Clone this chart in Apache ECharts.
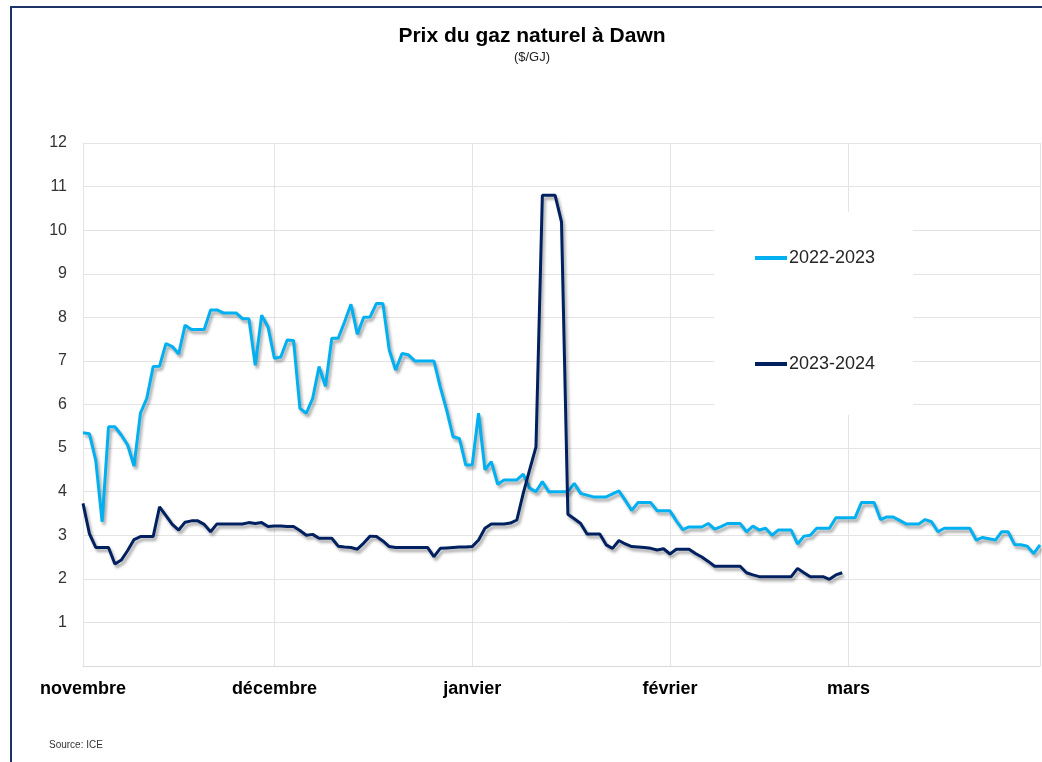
<!DOCTYPE html>
<html>
<head>
<meta charset="utf-8">
<title>Prix du gaz naturel à Dawn</title>
<script src="https://cdn.jsdelivr.net/npm/echarts@6/dist/echarts.min.js"></script>
<style>
  html, body { margin: 0; padding: 0; background: #ffffff; }
  #chart { width: 1042px; height: 762px; }
</style>
</head>
<body>
<div id="chart"></div>
<script>
// Months shown on the axis and their number of days (November to March)
const months = ['novembre', 'décembre', 'janvier', 'février', 'mars'];
const monthDays = [30, 31, 31, 28, 31];

// Daily Dawn price, $/GJ, 2022-2023 season (1 Nov to 31 Mar)
const season2022 = [
  5.35, 5.33, 4.72, 3.31, 5.49, 5.49, 5.30, 5.07, 4.59, 5.80,
  6.14, 6.87, 6.88, 7.40, 7.33, 7.16, 7.82, 7.72, 7.72, 7.72,
  8.17, 8.17, 8.10, 8.10, 8.10, 7.97, 7.97, 6.90, 8.05, 7.78,
  7.06, 7.09, 7.48, 7.47, 5.91, 5.80, 6.14, 6.87, 6.42, 7.52,
  7.52, 7.90, 8.30, 7.61, 8.00, 8.01, 8.32, 8.32, 7.25, 6.79,
  7.17, 7.14, 7.00, 7.00, 7.00, 7.00, 6.40, 5.87, 5.26, 5.22,
  4.61, 4.61, 5.80, 4.50, 4.69, 4.17, 4.27, 4.27, 4.27, 4.40,
  4.08, 4.00, 4.23, 4.00, 4.00, 4.00, 4.00, 4.19, 3.96, 3.92,
  3.88, 3.88, 3.88, 3.95, 4.02, 3.80, 3.57, 3.75, 3.75, 3.75,
  3.56, 3.56, 3.56, 3.33, 3.13, 3.19, 3.19, 3.19, 3.27, 3.14,
  3.20, 3.27, 3.27, 3.27, 3.08, 3.21, 3.12, 3.16, 3.00, 3.12,
  3.12, 3.12, 2.80, 2.98, 3.00, 3.16, 3.16, 3.16, 3.40, 3.40,
  3.40, 3.40, 3.75, 3.75, 3.75, 3.36, 3.42, 3.42, 3.34, 3.26,
  3.26, 3.26, 3.36, 3.31, 3.08, 3.16, 3.16, 3.16, 3.16, 3.16,
  2.89, 2.95, 2.92, 2.89, 3.08, 3.08, 2.79, 2.78, 2.75, 2.58,
  2.78
];

// Daily Dawn price, $/GJ, 2023-2024 season (1 Nov to 28 Feb)
const season2023 = [
  3.73, 3.04, 2.72, 2.72, 2.72, 2.34, 2.43, 2.65, 2.90, 2.97,
  2.97, 2.97, 3.65, 3.45, 3.25, 3.12, 3.30, 3.33, 3.33, 3.25,
  3.08, 3.26, 3.26, 3.26, 3.26, 3.26, 3.29, 3.27, 3.29, 3.20,
  3.21, 3.21, 3.20, 3.20, 3.11, 3.00, 3.02, 2.93, 2.93, 2.93,
  2.75, 2.73, 2.72, 2.68, 2.82, 2.98, 2.97, 2.87, 2.74, 2.72,
  2.72, 2.72, 2.72, 2.72, 2.72, 2.51, 2.70, 2.71, 2.72, 2.73,
  2.73, 2.74, 2.89, 3.16, 3.26, 3.26, 3.26, 3.28, 3.35, 3.96,
  4.50, 5.03, 10.80, 10.80, 10.80, 10.19, 3.48, 3.38, 3.27, 3.03,
  3.03, 3.03, 2.78, 2.70, 2.88, 2.80, 2.74, 2.73, 2.72, 2.70,
  2.66, 2.69, 2.57, 2.68, 2.68, 2.68, 2.58, 2.50, 2.40, 2.29,
  2.29, 2.29, 2.29, 2.29, 2.14, 2.09, 2.05, 2.05, 2.05, 2.05,
  2.05, 2.05, 2.24, 2.14, 2.05, 2.05, 2.05, 1.99, 2.09, 2.14
];

const seriesNames = ['2022-2023', '2023-2024'];
const yTicks = [0, 12, 1]; // min, max, step

// One category per calendar day; remember where each month starts
const days = [];
const monthStart = {};
months.forEach((m, i) => {
  monthStart[days.length] = m;
  for (let d = 1; d <= monthDays[i]; d++) days.push(d + ' ' + m);
});
const lastIndex = days.length - 1;

const lineShadow = {
  shadowColor: 'rgba(0, 0, 0, 0.35)',
  shadowBlur: 3,
  shadowOffsetX: 2,
  shadowOffsetY: 3
};

const chart = echarts.init(document.getElementById('chart'), null, { renderer: 'canvas' });

chart.setOption({
  backgroundColor: '#ffffff',
  animation: false,
  title: {
    text: 'Prix du gaz naturel à Dawn',
    subtext: '($/GJ)',
    left: 527,
    textAlign: 'center',
    top: 21,
    itemGap: 4,
    textStyle: { fontFamily: 'Liberation Sans, Arial, sans-serif', fontSize: 21, fontWeight: 'bold', color: '#000000' },
    subtextStyle: { fontFamily: 'Liberation Sans, Arial, sans-serif', fontSize: 13, color: '#222222' }
  },
  grid: { left: 83, right: 2, top: 143, bottom: 96, containLabel: false },
  legend: {
    orient: 'vertical',
    left: 755,
    top: 248,
    itemGap: 86,
    icon: 'rect',
    itemWidth: 32,
    itemHeight: 4,
    padding: 0,
    textStyle: { fontFamily: 'Liberation Sans, Arial, sans-serif', fontSize: 18, color: '#262626', lineHeight: 20, padding: [0, 0, 0, -3] },
    data: seriesNames
  },
  graphic: [
    {
      // white panel behind the legend
      type: 'rect', z: 1, silent: true,
      shape: { x: 714, y: 212, width: 199, height: 203 },
      style: { fill: '#ffffff' }
    },
    {
      // outer frame
      type: 'rect', z: 10, silent: true,
      shape: { x: 11, y: 7, width: 1060, height: 800 },
      style: { fill: 'none', stroke: '#1f3466', lineWidth: 2 }
    },
    {
      type: 'text', z: 10, left: 49, top: 740,
      style: { text: 'Source: ICE', fontFamily: 'Liberation Sans, Arial, sans-serif', fontSize: 10, fill: '#333333' }
    }
  ],
  xAxis: {
    type: 'category',
    data: days,
    boundaryGap: false,
    axisLine: { show: true, lineStyle: { color: '#d9d9d9', width: 1 } },
    axisTick: { show: false },
    axisLabel: {
      interval: (idx) => monthStart[idx] !== undefined,
      formatter: (val, idx) => monthStart[idx] || '',
      margin: 14,
      fontFamily: 'Liberation Sans, Arial, sans-serif',
      fontWeight: 'bold',
      fontSize: 18,
      color: '#000000',
      showMinLabel: true,
      hideOverlap: false
    },
    splitLine: {
      show: true,
      interval: (idx) => monthStart[idx] !== undefined || idx === lastIndex,
      lineStyle: { color: '#e4e4e4', width: 1 }
    }
  },
  yAxis: {
    type: 'value',
    min: yTicks[0],
    max: yTicks[1],
    interval: yTicks[2],
    axisLine: { show: false },
    axisTick: { show: false },
    axisLabel: {
      margin: 16,
      formatter: (v) => (v === 0 ? '' : String(v)),
      fontFamily: 'Liberation Sans, Arial, sans-serif',
      fontSize: 16,
      color: '#333333'
    },
    splitLine: { show: true, lineStyle: { color: '#e4e4e4', width: 1 } }
  },
  series: [
    {
      name: seriesNames[0],
      type: 'line',
      data: season2022,
      symbol: 'none',
      z: 3,
      color: '#00b0f0',
      lineStyle: Object.assign({ width: 3, color: '#00b0f0' }, lineShadow)
    },
    {
      name: seriesNames[1],
      type: 'line',
      data: season2023,
      symbol: 'none',
      z: 4,
      color: '#002060',
      lineStyle: Object.assign({ width: 3, color: '#002060' }, lineShadow)
    }
  ]
});
</script>
</body>
</html>
